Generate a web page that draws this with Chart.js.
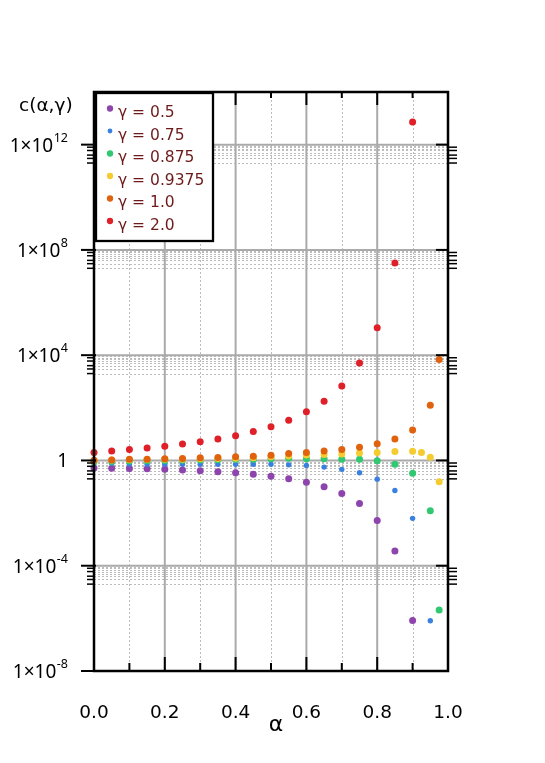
<!DOCTYPE html>
<html>
<head>
<meta charset="utf-8">
<script src="https://cdn.jsdelivr.net/npm/chart.js@4.4.1/dist/chart.umd.min.js"></script>
<style>
  html, body { margin: 0; padding: 0; background: #fff; }
  #wrap { width: 545px; height: 763px; }
</style>
</head>
<body>
<div id="wrap"><canvas id="chart" width="545" height="763"></canvas></div>
<script>
// alpha grids used by the different series
const alphaTo090 = [0, 0.05, 0.1, 0.15, 0.2, 0.25, 0.3, 0.35, 0.4, 0.45, 0.5, 0.55, 0.6, 0.65, 0.7, 0.75, 0.8, 0.85, 0.9];
const alphaTo095 = [...alphaTo090, 0.95];
const alphaTo0975 = [...alphaTo090, 0.95, 0.975];
const alphaYellow = [...alphaTo090, 0.925, 0.95, 0.975];

// c(alpha, gamma)
const cGamma05 = [0.52, 0.51, 0.50, 0.48, 0.46, 0.43, 0.41, 0.37, 0.34, 0.30, 0.25, 0.20, 0.15, 0.10, 0.056, 0.023, 0.0052, 3.6e-4, 8.3e-7];
const cGamma075 = [0.8, 0.78, 0.74, 0.72, 0.71, 0.71, 0.71, 0.71, 0.71, 0.72, 0.72, 0.68, 0.65, 0.56, 0.46, 0.34, 0.195, 0.072, 0.0063, 8.1e-7];
const cGamma0875 = [0.9, 0.92, 0.95, 0.97, 1.0, 1.02, 1.04, 1.06, 1.08, 1.1, 1.17, 1.2, 1.16, 1.15, 1.12, 1.1, 0.97, 0.72, 0.33, 0.0123, 2.1e-6];
const cGamma09375 = [1.0, 1.03, 1.06, 1.08, 1.1, 1.12, 1.15, 1.18, 1.22, 1.27, 1.38, 1.48, 1.62, 1.7, 1.74, 1.9, 2.0, 2.19, 2.24, 2.0, 1.33, 0.155];
const cGamma1 = [1.02, 1.03, 1.1, 1.12, 1.15, 1.19, 1.26, 1.29, 1.38, 1.45, 1.58, 1.85, 2.0, 2.3, 2.63, 3.2, 4.27, 6.5, 14.5, 126, 6900];
const cGamma2 = [2.0, 2.3, 2.6, 3.0, 3.5, 4.2, 5.1, 6.5, 8.7, 12.6, 19, 34, 71, 178, 676, 5000, 1.1e5, 3.2e7, 7.2e12];

const seriesLabels = ['γ = 0.5', 'γ = 0.75', 'γ = 0.875', 'γ = 0.9375', 'γ = 1.0', 'γ = 2.0'];
const seriesAlphas = [alphaTo090, alphaTo095, alphaTo0975, alphaYellow, alphaTo0975, alphaTo090];
const seriesValues = [cGamma05, cGamma075, cGamma0875, cGamma09375, cGamma1, cGamma2];
const seriesColors = ['#8e44ad', '#3a80e0', '#30c870', '#f5cc30', '#e0620e', '#e02028'];
const seriesRadius = [3.5, 2.7, 3.5, 3.5, 3.5, 3.5];

// ticks
const xMajorTicks = [0, 0.2, 0.4, 0.6, 0.8, 1.0];
const xMinorTicks = [0.1, 0.3, 0.5, 0.7, 0.9];
const yMajorTicks = [1e-8, 1e-4, 1, 1e4, 1e8, 1e12];
const yMinorSteps = [2, 3, 4, 6, 8];

const FONT = '"DejaVu Sans", sans-serif';
const YFONT = '"Noto Sans", sans-serif';

const line = (ctx, x1, y1, x2, y2) => {
    ctx.beginPath();
    ctx.moveTo(x1, y1);
    ctx.lineTo(x2, y2);
    ctx.stroke();
};

const mathFrame = {
    id: 'mathFrame',
    beforeDraw(chart) {
        const ctx = chart.ctx;
        ctx.save();
        ctx.fillStyle = '#fff';
        ctx.fillRect(0, 0, chart.width, chart.height);
        ctx.restore();
    },
    beforeDatasetsDraw(chart) {
        const { ctx, chartArea: a, scales: { x, y } } = chart;
        ctx.save();
        // dotted minor grid
        ctx.strokeStyle = '#bcbcbc';
        ctx.lineWidth = 1;
        ctx.setLineDash([2, 2]);
        xMinorTicks.forEach(v => {
            const px = Math.round(x.getPixelForValue(v)) + 0.5;
            line(ctx, px, a.top, px, a.bottom);
        });
        yMajorTicks.forEach(v => {
            for (let m = 2; m <= 9; m++) {
                const val = m * v / 10;
                if (val < y.min) continue;
                const py = Math.round(y.getPixelForValue(val)) + 0.5;
                line(ctx, a.left, py, a.right, py);
            }
        });
        // solid major grid
        ctx.setLineDash([]);
        ctx.strokeStyle = '#aaaaaa';
        ctx.lineWidth = 2;
        xMajorTicks.slice(1, -1).forEach(v => {
            const px = x.getPixelForValue(v);
            line(ctx, px, a.top, px, a.bottom);
        });
        yMajorTicks.slice(1).forEach(v => {
            const py = y.getPixelForValue(v);
            line(ctx, a.left, py, a.right, py);
        });
        ctx.restore();
    },
    afterDatasetsDraw(chart) {
        const { ctx, chartArea: a, scales: { x, y } } = chart;
        ctx.save();
        ctx.strokeStyle = '#000';

        // ticks on all four sides
        ctx.lineWidth = 2;
        yMajorTicks.forEach(v => {
            const py = y.getPixelForValue(v);
            line(ctx, a.left - 13, py, a.left + 2, py);
            line(ctx, a.right - 12, py, a.right, py);
        });
        ctx.lineWidth = 1.5;
        yMajorTicks.forEach(v => {
            yMinorSteps.forEach(m => {
                const val = m * v / 10;
                if (val < y.min) return;
                const py = y.getPixelForValue(val);
                line(ctx, a.left - 7, py, a.left, py);
                line(ctx, a.right, py, a.right + 9, py);
            });
        });
        ctx.lineWidth = 2;
        xMajorTicks.forEach(v => {
            const px = x.getPixelForValue(v);
            line(ctx, px, a.top, px, a.top + 13);
            line(ctx, px, a.bottom, px, a.bottom - 14);
        });
        xMinorTicks.forEach(v => {
            const px = x.getPixelForValue(v);
            line(ctx, px, a.top, px, a.top + 6);
            line(ctx, px, a.bottom, px, a.bottom - 8);
        });

        // frame
        ctx.lineWidth = 2.5;
        ctx.strokeRect(a.left, a.top, a.right - a.left, a.bottom - a.top);

        // y tick labels 1×10^n
        ctx.fillStyle = '#000';
        ctx.textBaseline = 'alphabetic';
        const labelRight = a.left - 26;
        yMajorTicks.forEach(v => {
            const py = y.getPixelForValue(v);
            const exp = Math.round(Math.log10(v));
            if (exp === 0) {
                ctx.font = '19px ' + YFONT;
                ctx.textAlign = 'right';
                ctx.fillText('1', labelRight, py + 7);
                return;
            }
            ctx.font = '12.5px ' + YFONT;
            const sup = String(exp);
            const w = ctx.measureText(sup).width;
            ctx.textAlign = 'left';
            ctx.fillText(sup, labelRight - w, py - 3);
            ctx.font = '19px ' + YFONT;
            ctx.textAlign = 'right';
            ctx.fillText('1×10', labelRight - w - 0.5, py + 7);
        });

        // x tick labels
        ctx.font = '18.5px ' + FONT;
        ctx.textAlign = 'center';
        xMajorTicks.forEach(v => {
            ctx.fillText(v.toFixed(1), x.getPixelForValue(v), a.bottom + 47);
        });

        // axis titles
        ctx.font = '22px ' + FONT;
        ctx.fillText('α', (a.left + a.right) / 2 + 5, a.bottom + 60);
        ctx.font = '18.5px ' + FONT;
        ctx.textAlign = 'left';
        ctx.fillText('c(α,γ)', 19, 111);

        // legend box
        const lx = 96, ly = 93, lw = 117, lh = 148;
        ctx.fillStyle = '#fff';
        ctx.fillRect(lx, ly, lw, lh);
        ctx.lineWidth = 2.3;
        ctx.strokeRect(lx, ly, lw, lh);
        ctx.font = '15.5px ' + FONT;
        chart.data.datasets.forEach((ds, i) => {
            const cy = 108.5 + i * 22.5;
            ctx.fillStyle = ds.backgroundColor;
            ctx.beginPath();
            ctx.arc(lx + 14, cy, ds.pointRadius * 0.9, 0, Math.PI * 2);
            ctx.fill();
            ctx.fillStyle = '#6e1a1a';
            ctx.fillText(ds.label, lx + 22, cy + 8.5);
        });
        ctx.restore();
    }
};

const datasets = seriesLabels.map((label, i) => ({
    label: label,
    data: seriesAlphas[i].map((a, j) => ({ x: a, y: seriesValues[i][j] })),
    backgroundColor: seriesColors[i],
    borderWidth: 0,
    pointRadius: seriesRadius[i],
    pointHoverRadius: seriesRadius[i],
    clip: false,
    order: seriesLabels.length - i,
}));

new Chart(document.getElementById('chart'), {
    type: 'scatter',
    data: { datasets: datasets },
    options: {
        responsive: false,
        animation: false,
        devicePixelRatio: 1,
        layout: { padding: { left: 94, right: 97, top: 92, bottom: 92 } },
        scales: {
            x: { type: 'linear', min: 0, max: 1, display: false },
            y: { type: 'logarithmic', min: 1e-8, max: 1e14, display: false },
        },
        plugins: {
            legend: { display: false },
            tooltip: { enabled: false },
        },
    },
    plugins: [mathFrame],
});
</script>
</body>
</html>
